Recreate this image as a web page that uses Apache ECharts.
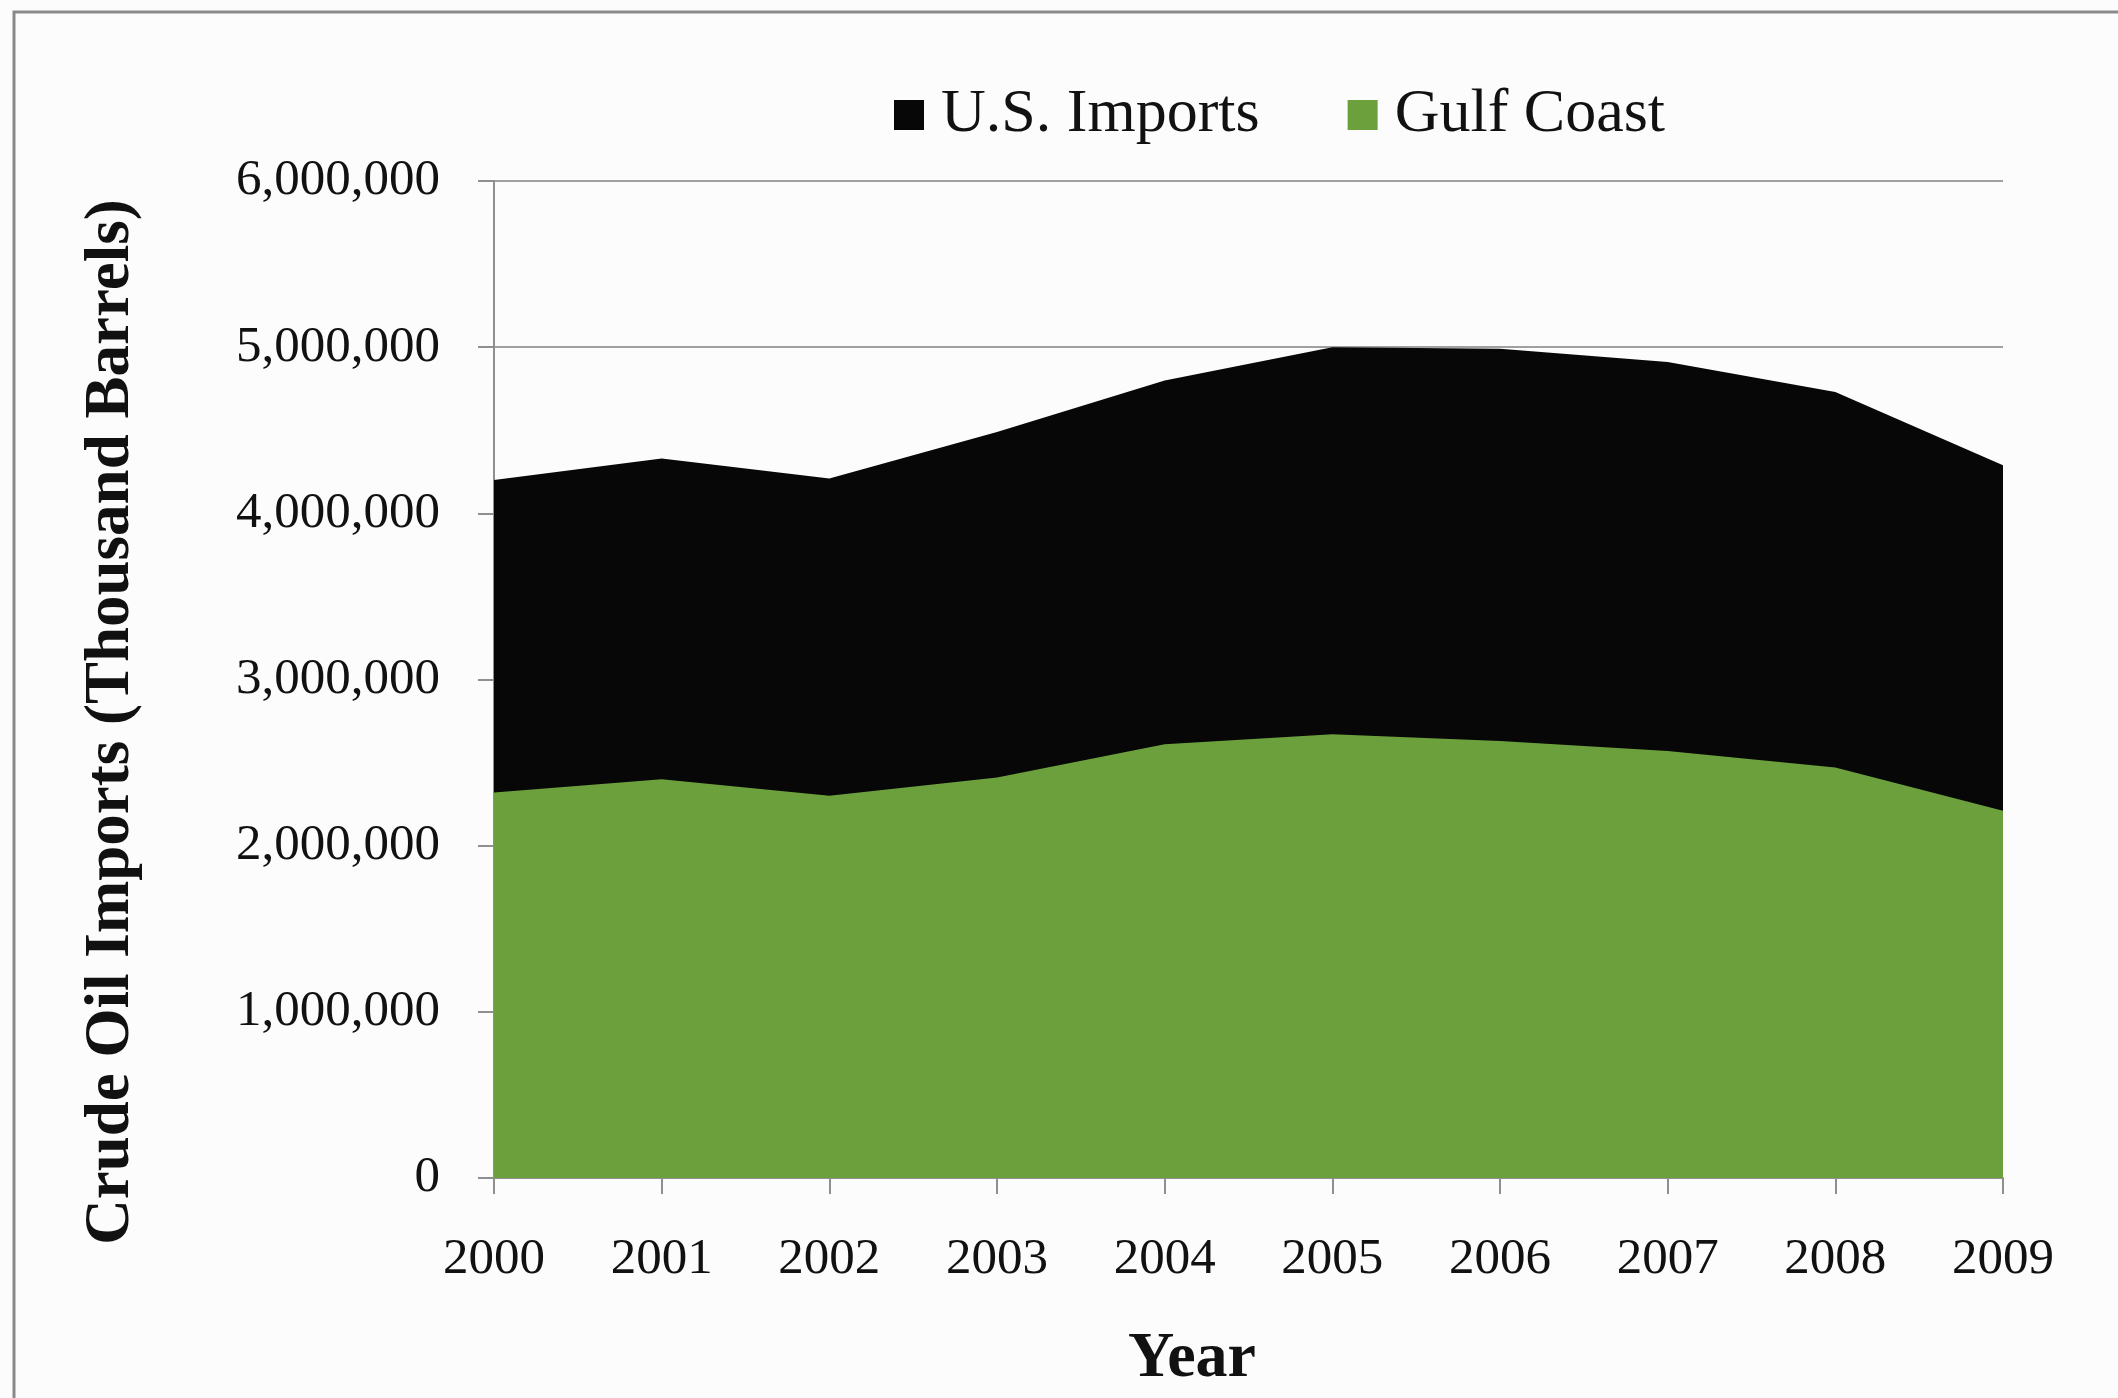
<!DOCTYPE html>
<html>
<head>
<meta charset="utf-8">
<title>Crude Oil Imports 2000-2009</title>
<script src="https://cdn.jsdelivr.net/npm/echarts@6/dist/echarts.min.js"></script>
<style>
  html, body { margin: 0; padding: 0; background: #fcfcfc; }
  #chart { width: 2118px; height: 1398px; }
</style>
</head>
<body>
<div id="chart"></div>
<script>
// Years on the category axis
const years = ['2000', '2001', '2002', '2003', '2004', '2005', '2006', '2007', '2008', '2009'];

// Crude oil imports, thousand barrels
const usImports = [4200000, 4330000, 4210000, 4490000, 4800000, 5000000, 4990000, 4910000, 4730000, 4290000];
const gulfCoast = [2320000, 2400000, 2300000, 2410000, 2610000, 2670000, 2630000, 2570000, 2470000, 2210000];

// Value axis range and step
const yMin = 0;
const yMax = 6000000;
const yStep = 1000000;

const serif = '"Liberation Serif", "Times New Roman", serif';
const axisGray = '#8f8f8f';

function withCommas(v) {
  return String(v).replace(/\B(?=(\d{3})+(?!\d))/g, ',');
}

const chart = echarts.init(document.getElementById('chart'), null, { renderer: 'canvas' });

chart.setOption({
  backgroundColor: '#fcfcfc',
  animation: false,
  grid: { left: 494, right: 115, top: 181, bottom: 220, containLabel: false },
  legend: {
    left: 889,
    top: 79,
    itemWidth: 30,
    itemHeight: 30,
    itemGap: 88,
    icon: 'rect',
    textStyle: {
      fontFamily: serif,
      fontSize: 62,
      lineHeight: 62,
      color: '#111',
      padding: [0, 0, 0, 12]
    },
    data: ['U.S. Imports', 'Gulf Coast']
  },
  xAxis: {
    type: 'category',
    data: years,
    boundaryGap: false,
    axisLine: { show: true, lineStyle: { color: axisGray, width: 2 } },
    axisTick: { show: true, alignWithLabel: true, length: 16, lineStyle: { color: axisGray, width: 2 } },
    axisLabel: { fontFamily: serif, fontSize: 51, color: '#111', margin: 56 },
    splitLine: { show: false }
  },
  yAxis: {
    type: 'value',
    min: yMin,
    max: yMax,
    interval: yStep,
    axisLine: { show: true, lineStyle: { color: axisGray, width: 2 } },
    axisTick: { show: true, length: 16, lineStyle: { color: axisGray, width: 2 } },
    axisLabel: {
      fontFamily: serif,
      fontSize: 51,
      color: '#111',
      margin: 54,
      formatter: withCommas
    },
    splitLine: { show: true, lineStyle: { color: '#a0a0a0', width: 2 } }
  },
  series: [
    {
      name: 'U.S. Imports',
      type: 'line',
      data: usImports,
      symbol: 'none',
      lineStyle: { width: 0 },
      itemStyle: { color: '#070707' },
      areaStyle: { color: '#070707', opacity: 1 },
      z: 2
    },
    {
      name: 'Gulf Coast',
      type: 'line',
      data: gulfCoast,
      symbol: 'none',
      lineStyle: { width: 0 },
      itemStyle: { color: '#6ca03c' },
      areaStyle: { color: '#6ca03c', opacity: 1 },
      z: 3
    }
  ],
  graphic: [
    {
      type: 'rect',
      silent: true,
      shape: { x: 14, y: 12, width: 2200, height: 1500 },
      style: { fill: 'none', stroke: '#8a8a8a', lineWidth: 3 },
      z: -1
    },
    {
      type: 'text',
      x: 112,
      y: 722,
      rotation: Math.PI / 2,
      style: {
        text: 'Crude Oil Imports (Thousand Barrels)',
        font: 'bold 63px ' + serif,
        fill: '#111',
        align: 'center',
        verticalAlign: 'middle'
      }
    },
    {
      type: 'text',
      x: 1192,
      y: 1359,
      style: {
        text: 'Year',
        font: 'bold 64px ' + serif,
        fill: '#111',
        align: 'center',
        verticalAlign: 'middle'
      }
    }
  ]
});
</script>
</body>
</html>
